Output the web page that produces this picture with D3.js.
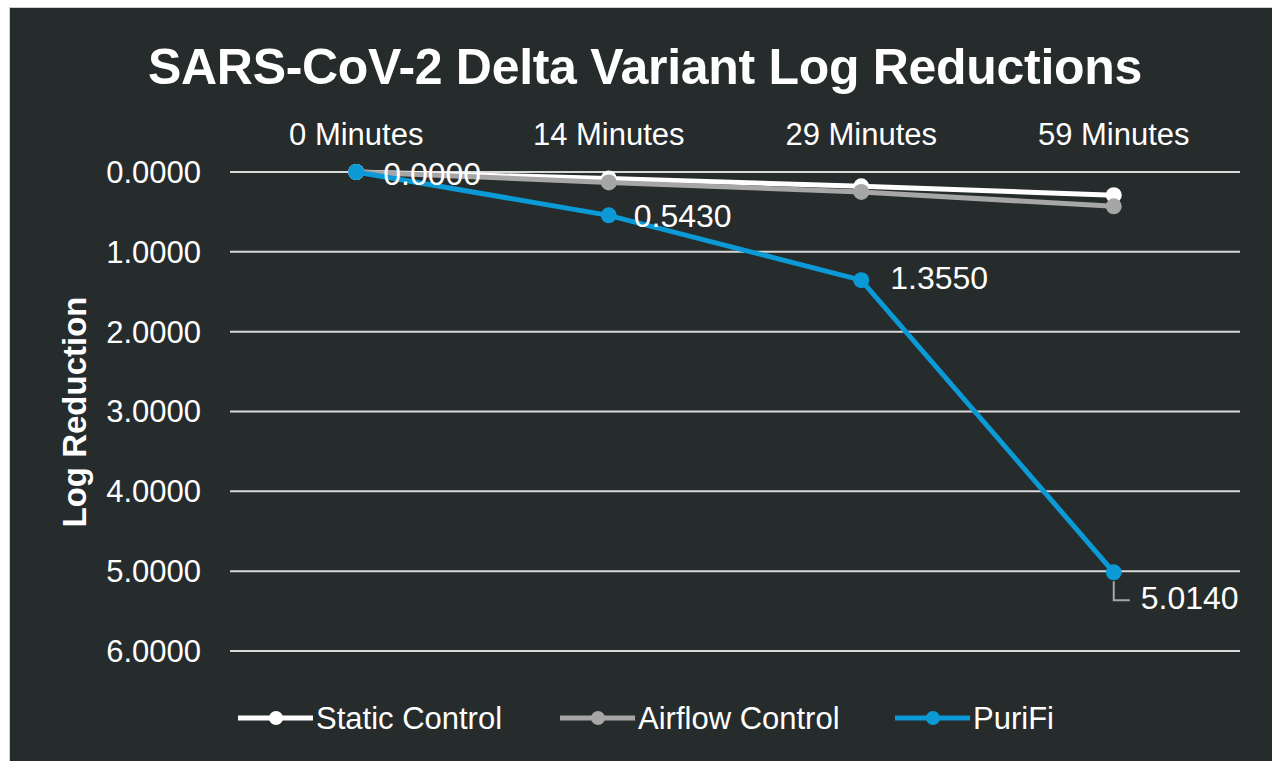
<!DOCTYPE html>
<html>
<head>
<meta charset="utf-8">
<script src="https://cdn.jsdelivr.net/npm/d3@7"></script>
<style>
  body { margin: 0; background: #fff; }
  svg text { font-family: "Liberation Sans", Arial, sans-serif; fill: #fff; }
</style>
</head>
<body>
<svg id="chart" width="1272" height="761"></svg>
<script>
// data
var categories = ["0 Minutes", "14 Minutes", "29 Minutes", "59 Minutes"];
var staticControl = [0, 0.08, 0.18, 0.29];
var airflowControl = [0, 0.13, 0.25, 0.43];
var puriFi = [0, 0.543, 1.355, 5.014];
var yTicks = [0, 1, 2, 3, 4, 5, 6];

var seriesList = [
  { name: "Static Control", values: staticControl, color: "#ffffff" },
  { name: "Airflow Control", values: airflowControl, color: "#a6a6a6" },
  { name: "PuriFi", values: puriFi, color: "#0b9ad6" }
];

var svg = d3.select("#chart");

// dark panel
svg.append("rect")
  .attr("x", 9.5).attr("y", 7.5)
  .attr("width", 1270).attr("height", 760)
  .attr("fill", "#262b2c")
  .attr("stroke", "#d0d0d0").attr("stroke-width", 1);

var plot = { left: 230, right: 1240, top: 172, bottom: 651 };

var x = d3.scaleBand().domain(categories).range([plot.left, plot.right]);
var y = d3.scaleLinear().domain([0, 6]).range([plot.top, plot.bottom]);
var cx = function(i){ return x(categories[i]) + x.bandwidth() / 2; };

// gridlines
svg.append("g").selectAll("line").data(yTicks).join("line")
  .attr("x1", plot.left).attr("x2", plot.right)
  .attr("y1", function(d){ return y(d); }).attr("y2", function(d){ return y(d); })
  .attr("stroke", "#d9d9d9").attr("stroke-width", 2);

// y tick labels
svg.append("g").selectAll("text").data(yTicks).join("text")
  .attr("x", 201).attr("y", function(d){ return y(d); })
  .attr("dy", "0.35em")
  .attr("text-anchor", "end")
  .attr("font-size", 31)
  .text(function(d){ return d3.format(".4f")(d); });

// category labels on top
svg.append("g").selectAll("text").data(categories).join("text")
  .attr("x", function(d, i){ return cx(i); })
  .attr("y", 145)
  .attr("text-anchor", "middle")
  .attr("font-size", 31)
  .text(function(d){ return d; });

// title
svg.append("text")
  .attr("x", 645).attr("y", 84)
  .attr("text-anchor", "middle")
  .attr("font-size", 50).attr("font-weight", "bold")
  .attr("letter-spacing", -0.3)
  .text("SARS-CoV-2 Delta Variant Log Reductions");

// axis title
svg.append("text")
  .attr("transform", "translate(86,412) rotate(-90)")
  .attr("text-anchor", "middle")
  .attr("font-size", 33).attr("font-weight", "bold")
  .text("Log Reduction");

var line = d3.line()
  .x(function(d, i){ return cx(i); })
  .y(function(d){ return y(d); });

seriesList.forEach(function(s){
  var g = svg.append("g");
  g.append("path")
    .attr("d", line(s.values))
    .attr("fill", "none")
    .attr("stroke", s.color)
    .attr("stroke-width", 5);
  g.selectAll("circle").data(s.values).join("circle")
    .attr("cx", function(d, i){ return cx(i); })
    .attr("cy", function(d){ return y(d); })
    .attr("r", 8)
    .attr("fill", s.color);
});

// data labels for PuriFi
var labelDx = [27, 25, 29, 27];
var labelDy = [2, 0, -2, 26];
svg.append("g").selectAll("text").data(puriFi).join("text")
  .attr("x", function(d, i){ return cx(i) + labelDx[i]; })
  .attr("y", function(d, i){ return y(d) + labelDy[i]; })
  .attr("dy", "0.35em")
  .attr("font-size", 32)
  .text(function(d){ return d3.format(".4f")(d); });

// leader line for last label
var lastX = cx(3);
svg.append("path")
  .attr("d", "M" + lastX + "," + (y(puriFi[3]) + 9) + "V" + (y(puriFi[3]) + 28) + "H" + (lastX + 16))
  .attr("fill", "none")
  .attr("stroke", "#a6a6a6")
  .attr("stroke-width", 2);

// legend
var legendX = [238, 560, 895];
var lg = svg.append("g").selectAll("g").data(seriesList).join("g")
  .attr("transform", function(d, i){ return "translate(" + legendX[i] + ",718)"; });
lg.append("line")
  .attr("x1", 0).attr("x2", 75)
  .attr("stroke", function(d){ return d.color; })
  .attr("stroke-width", 5);
lg.append("circle")
  .attr("cx", 38).attr("r", 7)
  .attr("fill", function(d){ return d.color; });
lg.append("text")
  .attr("x", 78).attr("dy", "0.35em")
  .attr("font-size", 31)
  .text(function(d){ return d.name; });
</script>
</body>
</html>
